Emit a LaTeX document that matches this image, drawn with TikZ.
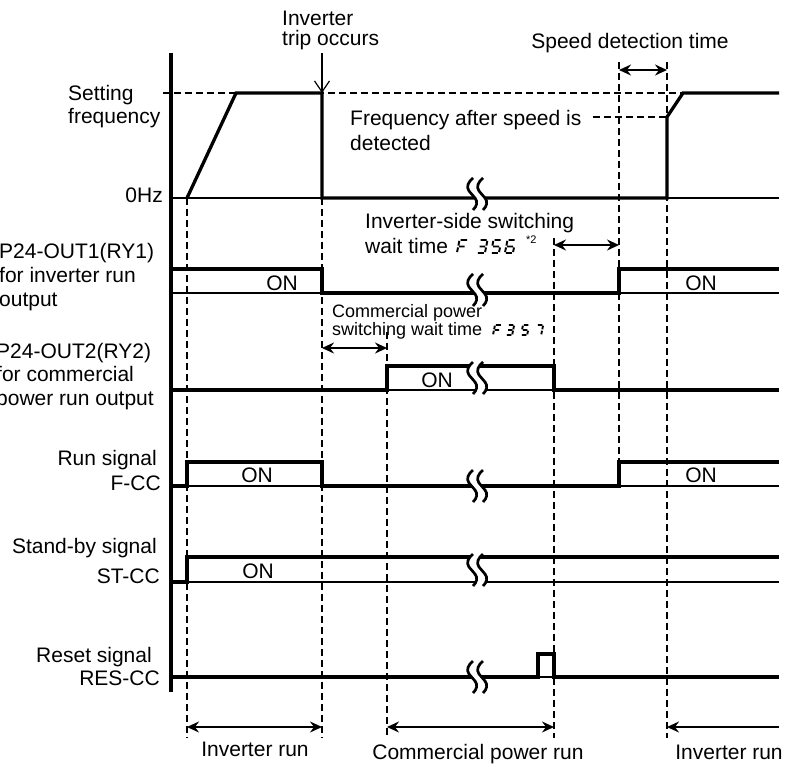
\documentclass[tikz,border=0pt]{standalone}
\usepackage{fontspec}
\setmainfont{Liberation Sans}
\usetikzlibrary{arrows.meta}
\tikzset{
  sig/.style={line width=3.3pt,line join=miter},
  thinl/.style={line width=1.2pt},
  dsh/.style={line width=1.2pt,dash pattern=on 7pt off 4pt},
  dimarrow/.style={line width=1.6pt,{Stealth[length=12pt,width=11pt,inset=4pt]}-{Stealth[length=12pt,width=11pt,inset=4pt]}},
  dimone/.style={line width=1.6pt,-{Stealth[length=12pt,width=11pt,inset=4pt]}},
  trip/.style={line width=1.2pt,-{Straight Barb[length=11pt,width=15pt]}},
  lbl/.style={inner sep=0pt,font=\fontsize{21}{#1}\selectfont},
  lbl/.default=24,
  smalltxt/.style={inner sep=0pt,font=\fontsize{18}{18}\selectfont},
  segline/.style={line width=1.9pt},
  brkline/.style={line width=2.7pt},
  pics/brk/.style={code={
    \fill[white] (-4,-16) .. controls (-9,-12) and (-11,-7) .. (-8,-3) -- (-2,4) .. controls (1,8) and (0,12) .. (-4,16) -- (6,16) .. controls (10,12) and (11,8) .. (8,4) -- (2,-3) .. controls (-1,-7) and (1,-12) .. (6,-16) -- cycle;
    \draw[brkline] (-4,-16) .. controls (-9,-12) and (-11,-7) .. (-8,-3) -- (-2,4) .. controls (1,8) and (0,12) .. (-4,16);
    \draw[brkline] (6,-16) .. controls (1,-12) and (-1,-7) .. (2,-3) -- (8,4) .. controls (11,8) and (10,12) .. (6,16);
  }}
}
% seven-segment style glyph: x, y (top-left), scale, segment path
\newcommand\segglyph[4]{\begin{scope}[shift={(#1,#2)},xslant=0.2,scale=#3]\draw[segline] #4;\end{scope}}
\begin{document}
\begin{tikzpicture}[x=1pt,y=-1pt]
\useasboundingbox (0,0) rectangle (802,766);

% ---------- dashed guide lines ----------
\draw[dsh] (163,93) -- (683,93);
\draw[dsh] (593,117) -- (667,117);
\draw[dsh] (187,198) -- (187,738);
\draw[dsh] (322,198) -- (322,738);
\draw[dsh] (387,332) -- (387,738);
\draw[dsh] (554,238) -- (554,738);
\draw[dsh] (619,62) -- (619,462);
\draw[dsh] (667,62) -- (667,738);

% ---------- axis ----------
\draw[sig] (171,53) -- (171,692);

% ---------- frequency ----------
\draw[thinl] (171,198) -- (779,198);
\draw[sig] (187,198) -- (236,93) -- (322,93) -- (322,198) -- (667,198) -- (667,117) -- (683,93) -- (779,93);
\coordinate (tripA) at (322,53);
\coordinate (tripB) at (322,93);
\draw[trip] (tripA) -- (tripB);
\pic at (477,194) {brk};

% ---------- P24-OUT1 ----------
\draw[thinl] (171,293) -- (779,293);
\draw[sig] (171,269) -- (322,269) -- (322,293) -- (619,293) -- (619,269) -- (779,269);
\pic at (477,290) {brk};

% ---------- P24-OUT2 ----------
\draw[thinl] (171,390) -- (779,390);
\draw[sig] (171,390) -- (387,390) -- (387,366) -- (554,366) -- (554,390) -- (779,390);
\pic at (477,378) {brk};

% ---------- F-CC ----------
\draw[thinl] (171,486) -- (779,486);
\draw[sig] (171,486) -- (187,486) -- (187,462) -- (322,462) -- (322,486) -- (619,486) -- (619,462) -- (779,462);
\pic at (477,486) {brk};

% ---------- ST-CC ----------
\draw[thinl] (171,582) -- (779,582);
\draw[sig] (171,582) -- (187,582) -- (187,557) -- (779,557);
\pic at (477,570) {brk};

% ---------- RES-CC ----------
\draw[thinl] (171,677) -- (779,677);
\draw[sig] (171,677) -- (538,677) -- (538,654) -- (554,654) -- (554,677) -- (779,677);
\pic at (477,677) {brk};

% ---------- dimension arrows ----------
\coordinate (sdA) at (619,70);  \coordinate (sdB) at (667,70);
\draw[dimarrow] (sdA) -- (sdB);
\coordinate (iwA) at (554,245); \coordinate (iwB) at (619,245);
\draw[dimarrow] (iwA) -- (iwB);
\coordinate (cwA) at (322,348); \coordinate (cwB) at (387,348);
\draw[dimarrow] (cwA) -- (cwB);
\coordinate (irA) at (187,727); \coordinate (irB) at (322,727);
\draw[dimarrow] (irA) -- (irB);
\coordinate (cpA) at (387,727); \coordinate (cpB) at (554,727);
\draw[dimarrow] (cpA) -- (cpB);
\coordinate (ir2A) at (779,727); \coordinate (ir2B) at (667,727);
\draw[dimone] (ir2A) -- (ir2B);

% ---------- texts (base anchor = baseline of last line) ----------
\node[lbl=20,align=left,anchor=base west] (ttrip) at (282,45) {Inverter\\trip occurs};
\node[lbl,anchor=base] (tspeed) at (630,48) {Speed detection time};
\node[lbl=23,align=left,anchor=base west] (tset) at (68,123) {Setting\\frequency};
\node[lbl,anchor=base east] (t0hz) at (163,202) {0Hz};
\node[lbl=25,align=left,anchor=base west] (tfad) at (350,150) {Frequency after speed is\\detected};
\node[lbl=25,align=left,anchor=base west] (tisw) at (365,253) {Inverter-side switching\\wait time};
\segglyph{459.5}{240}{1}{(7.5,0)--(1,0) (0,0.9)--(0,5.6) (0,7.4)--(0,12.1) (1,6.5)--(6.5,6.5)}
\segglyph{479.5}{240}{1}{(1,0)--(7,0) (8,0.9)--(8,5.6) (8,7.4)--(8,12.1) (1,13)--(7,13) (1.5,6.5)--(7,6.5)}
\segglyph{493.5}{240}{1}{(1,0)--(7,0) (0,0.9)--(0,5.6) (1,6.5)--(7,6.5) (8,7.4)--(8,12.1) (1,13)--(7,13)}
\segglyph{507.5}{240}{1}{(1,0)--(7,0) (0,0.9)--(0,5.6) (0,7.4)--(0,12.1) (1,13)--(7,13) (8,7.4)--(8,12.1) (1,6.5)--(7,6.5)}
\node[inner sep=0pt,anchor=north west,font=\fontsize{11}{11}\selectfont] (tstar) at (526,236) {*2};

\node[lbl,align=left,anchor=base west] (tout1) at (-1,306) {P24-OUT1(RY1)\\for inverter run\\output};
\node[lbl=23.5,align=left,anchor=base west] (tout2) at (-4,405) {P24-OUT2(RY2)\\for commercial\\power run output};
\node[smalltxt,align=left,anchor=base west] (tcsw) at (332,335) {Commercial power\\switching wait time};
\segglyph{495}{325}{0.77}{(7.5,0)--(1,0) (0,0.9)--(0,5.6) (0,7.4)--(0,12.1) (1,6.5)--(6.5,6.5)}
\segglyph{508}{325}{0.77}{(1,0)--(7,0) (8,0.9)--(8,5.6) (8,7.4)--(8,12.1) (1,13)--(7,13) (1.5,6.5)--(7,6.5)}
\segglyph{523}{325}{0.77}{(1,0)--(7,0) (0,0.9)--(0,5.6) (1,6.5)--(7,6.5) (8,7.4)--(8,12.1) (1,13)--(7,13)}
\segglyph{537}{325}{0.77}{(1,0)--(7,0) (8,0.9)--(8,5.6) (8,7.4)--(8,12.1)}

\node[lbl=25,align=right,anchor=base east] (trun) at (161,490) {Run signal\hspace*{4pt}\\F-CC};
\node[lbl=30,align=right,anchor=base east] (tstb) at (160,583) {Stand-by signal\hspace*{3pt}\\ST-CC};
\node[lbl=23,align=right,anchor=base east] (trst) at (160,685) {Reset signal\hspace*{8pt}\\RES-CC};

\node[lbl,anchor=base] (on1) at (282,290) {ON};
\node[lbl,anchor=base] (on2) at (701,290) {ON};
\node[lbl,anchor=base] (on3) at (437,387) {ON};
\node[lbl,anchor=base] (on4) at (257,482) {ON};
\node[lbl,anchor=base] (on5) at (701,482) {ON};
\node[lbl,anchor=base] (on6) at (258,578) {ON};

\node[lbl,anchor=base] (tinv1) at (255,756) {Inverter run};
\node[lbl,anchor=base] (tcpr) at (478,759) {Commercial power run};
\node[lbl,anchor=base] (tinv2) at (729,759) {Inverter run};
\end{tikzpicture}
\end{document}
